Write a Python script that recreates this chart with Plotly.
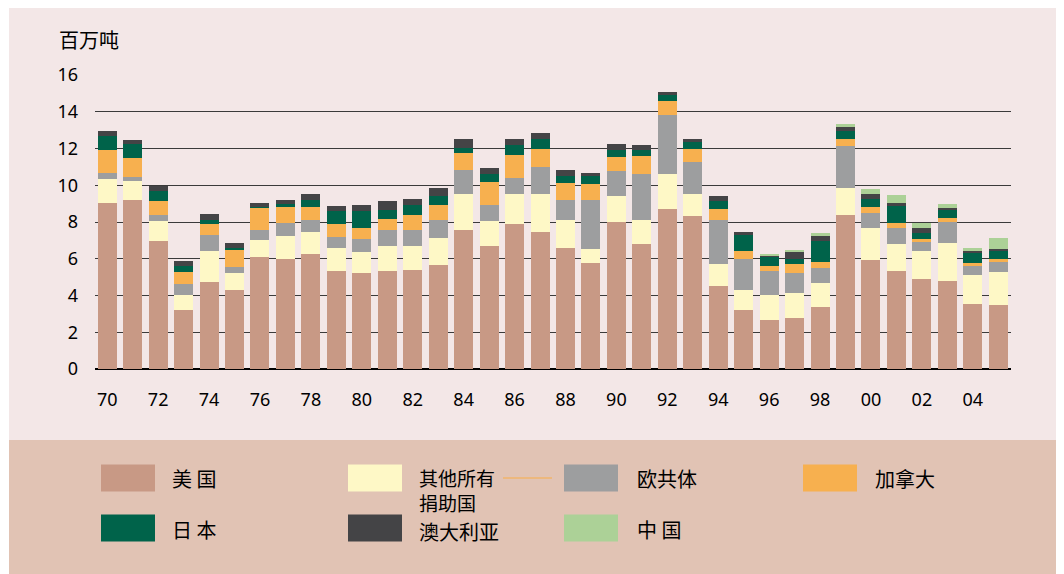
import plotly.graph_objects as go

years = list(range(1970, 2006))

us = [9.04, 9.20, 6.96, 3.19, 4.72, 4.28, 6.09, 5.98, 6.25, 5.32, 5.21, 5.32, 5.38, 5.65, 7.56, 6.69, 7.89, 7.45,
      6.58, 5.76, 8.00, 6.80, 8.71, 8.33, 4.50, 3.19, 2.64, 2.75, 3.35, 8.38, 5.92, 5.32, 4.88, 4.77, 3.52, 3.46]
other = [1.31, 1.04, 1.09, 0.82, 1.69, 0.93, 0.93, 1.25, 1.20, 1.26, 1.15, 1.37, 1.31, 1.48, 1.97, 1.36, 1.64, 2.08,
         1.53, 0.76, 1.42, 1.31, 1.91, 1.20, 1.20, 1.09, 1.37, 1.37, 1.32, 1.48, 1.75, 1.48, 1.53, 2.08, 1.58, 1.81]
ec = [0.33, 0.22, 0.33, 0.60, 0.88, 0.33, 0.54, 0.72, 0.66, 0.60, 0.71, 0.87, 0.87, 0.98, 1.31, 0.88, 0.88, 1.48,
      1.09, 2.68, 1.37, 2.51, 3.23, 1.75, 2.41, 1.70, 1.31, 1.09, 0.82, 2.29, 0.82, 0.87, 0.50, 1.15, 0.49, 0.54]
canada = [1.26, 1.04, 0.77, 0.66, 0.60, 0.98, 1.21, 0.87, 0.71, 0.71, 0.60, 0.60, 0.82, 0.82, 0.93, 1.26, 1.25, 0.98,
          0.93, 0.88, 0.76, 0.99, 0.71, 0.71, 0.60, 0.43, 0.27, 0.49, 0.32, 0.39, 0.33, 0.28, 0.16, 0.22, 0.17, 0.17]
japan = [0.76, 0.76, 0.54, 0.32, 0.22, 0.06, 0.05, 0.16, 0.38, 0.69, 0.91, 0.50, 0.53, 0.49, 0.28, 0.43, 0.55, 0.55,
         0.38, 0.43, 0.39, 0.33, 0.33, 0.38, 0.44, 0.88, 0.50, 0.28, 1.15, 0.43, 0.44, 0.92, 0.33, 0.44, 0.53, 0.43]
australia = [0.27, 0.22, 0.28, 0.28, 0.33, 0.27, 0.22, 0.22, 0.33, 0.29, 0.35, 0.49, 0.35, 0.44, 0.49, 0.33, 0.33, 0.33,
             0.33, 0.17, 0.32, 0.27, 0.16, 0.17, 0.27, 0.16, 0.11, 0.38, 0.27, 0.22, 0.27, 0.17, 0.27, 0.11, 0.12, 0.11]
china = [None] * 26 + [0.05, 0.11, 0.17, 0.17, 0.27, 0.44, 0.28, 0.21, 0.17, 0.61]

series_names = ["美 国", "其他所有<br>捐助国", "欧共体", "加拿大", "日 本", "澳大利亚", "中 国"]
series_values = [us, other, ec, canada, japan, australia, china]
colors = ["#c89985", "#fef8c6", "#9d9e9f", "#f7b04f", "#00634a", "#444446", "#acd197"]

tick_years = list(range(1970, 2005, 2))
tick_text = ["%02d" % (y % 100) for y in tick_years]

OFF = 8  # page body margin
W, H = 1064, 574
# plot area in screenshot pixels: x 95..1011, y 75..369
L = 95 - OFF
R = W - (1011 - OFF)
T = 75 - OFF
B = H - (369 - OFF)
PW, PH = W - L - R, H - T - B


def X(px):
    return (px - OFF - L) / PW


def Y(py):
    return (H - B - (py - OFF)) / PH


fig = go.Figure()
for name, vals, col in zip(series_names, series_values, colors):
    fig.add_trace(go.Bar(x=years, y=vals, name=name.replace("<br>", ""),
                         marker=dict(color=col, line=dict(width=0)), showlegend=False))

shapes = []
shapes.append(dict(type="rect", xref="paper", yref="paper", x0=X(8), x1=X(9), y0=Y(H + 20), y1=Y(0),
                   fillcolor="#ffffff", line=dict(width=0), layer="below"))
shapes.append(dict(type="rect", xref="paper", yref="paper", x0=X(9), x1=X(1059), y0=Y(H + 20), y1=Y(440),
                   fillcolor="#e1c3b4", line=dict(width=0), layer="below"))

CJK = "Noto Sans CJK SC"
annotations = []
annotations.append(dict(text="百万吨", xref="paper", yref="paper", x=X(57), y=Y(39), xanchor="left",
                        yanchor="middle", showarrow=False,
                        font=dict(family=CJK, size=20, color="#000000")))

# (swatch x0, text x, swatch center y, text center y, font size)
legend_pos = [
    (101, 171, 478, 478, 20),
    (348, 418, 478, 490.4, 19),
    (564, 636, 478, 478, 20),
    (803, 874, 478, 478, 20),
    (101, 171, 528, 529, 20),
    (348, 418, 528, 531, 20),
    (564, 636, 528, 529, 20),
]
for (sx, tx, cy, ty, fs), name, col in zip(legend_pos, series_names, colors):
    shapes.append(dict(type="rect", xref="paper", yref="paper", x0=X(sx), x1=X(sx + 54),
                       y0=Y(cy + 13.5), y1=Y(cy - 13.5), fillcolor=col, line=dict(width=0)))
    annotations.append(dict(text=name, xref="paper", yref="paper", x=X(tx), y=Y(ty),
                            xanchor="left", yanchor="middle", align="left", showarrow=False,
                            borderpad=0,
                            font=dict(family=CJK, size=fs, color="#000000")))
shapes.append(dict(type="line", xref="paper", yref="paper", x0=X(503), x1=X(552), y0=Y(478), y1=Y(478),
                   line=dict(color="#f0b46c", width=1.5)))

fig.update_layout(
    width=W, height=H,
    margin=dict(l=L, r=R, t=T, b=B, pad=0),
    barmode="stack",
    bargap=0.255,
    paper_bgcolor="#f3e7e7",
    plot_bgcolor="rgba(0,0,0,0)",
    shapes=shapes,
    annotations=annotations,
    showlegend=False,
    xaxis=dict(range=[1969.52, 2005.5], tickmode="array", tickvals=tick_years, ticktext=tick_text,
               showgrid=False, zeroline=False, showline=False, ticks="",
               ticklabelstandoff=18,
               tickfont=dict(family="Noto Sans", size=18, color="#000000")),
    yaxis=dict(range=[0, 16], tickmode="array", tickvals=list(range(0, 17, 2)),
               showgrid=True, gridcolor="#3a3a3a", gridwidth=1,
               zeroline=True, zerolinecolor="#000000", zerolinewidth=1.8,
               showline=False, ticks="", ticklabelstandoff=16,
               tickfont=dict(family="Noto Sans", size=18, color="#000000")),
)

fig.write_html("out.html")
